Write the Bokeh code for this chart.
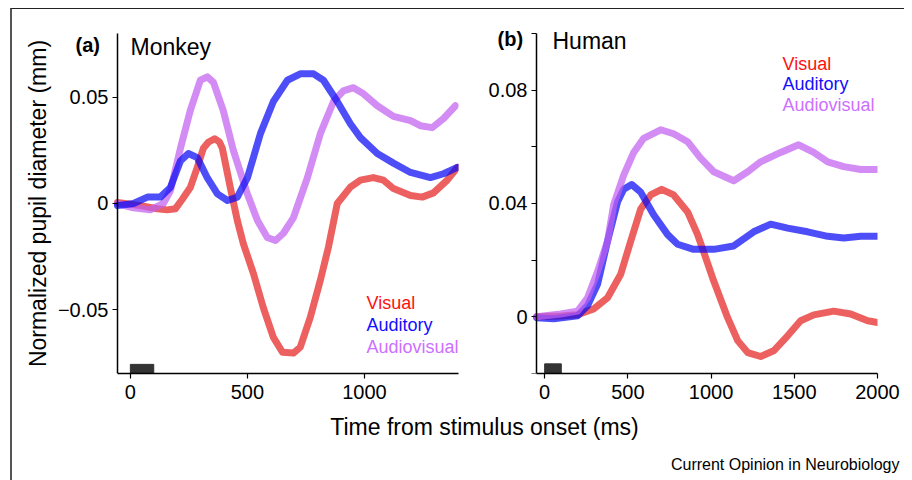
from bokeh.plotting import figure
from bokeh.layouts import row, column
from bokeh.models import Label, FixedTicker
from bokeh.embed import file_html
from bokeh.resources import INLINE

FONT = "Liberation Sans"

# ---------------- data: Monkey (a) ----------------
m_vis_t = [-55, 43, 115, 158, 192, 222, 256, 286, 312, 333, 360, 380, 393, 427, 457, 483, 526, 568, 611, 650, 697, 726, 769, 812, 846, 884, 940, 983, 1038, 1081, 1124, 1197, 1247, 1295, 1354, 1397]
m_vis_v = [0.0005, -0.001, -0.0025, -0.003, -0.0025, 0.002, 0.0075, 0.017, 0.026, 0.0288, 0.0305, 0.029, 0.026, 0.0075, -0.008, -0.019, -0.033, -0.049, -0.063, -0.070, -0.0704, -0.0676, -0.0535, -0.036, -0.0207, 0.0, 0.0077, 0.011, 0.0122, 0.011, 0.007, 0.0038, 0.003, 0.005, 0.011, 0.017]

m_aud_t = [-55, 13, 73, 128, 171, 214, 248, 286, 329, 372, 415, 457, 500, 556, 611, 671, 726, 783, 825, 884, 940, 983, 1055, 1124, 1197, 1282, 1338, 1397]
m_aud_v = [-0.001, 0.0, 0.003, 0.003, 0.0075, 0.020, 0.0235, 0.0216, 0.012, 0.0045, 0.0014, 0.003, 0.012, 0.033, 0.048, 0.058, 0.061, 0.061, 0.058, 0.048, 0.0375, 0.031, 0.0235, 0.019, 0.0146, 0.0122, 0.014, 0.017]

m_av_t = [-55, 13, 85, 141, 171, 214, 256, 299, 329, 355, 397, 440, 500, 543, 585, 620, 654, 697, 756, 812, 868, 910, 953, 996, 1055, 1124, 1197, 1239, 1290, 1338, 1389]
m_av_v = [0.0, -0.002, -0.003, 0.0, 0.006, 0.026, 0.0437, 0.058, 0.0596, 0.057, 0.0437, 0.025, 0.0045, -0.008, -0.016, -0.0174, -0.014, -0.0066, 0.012, 0.033, 0.048, 0.053, 0.0545, 0.0516, 0.046, 0.041, 0.039, 0.0366, 0.0357, 0.040, 0.046]

# ---------------- data: Human (b) ----------------
h_vis_t = [-48, 100, 198, 294, 378, 457, 517, 577, 637, 703, 775, 859, 919, 955, 1016, 1100, 1160, 1220, 1298, 1376, 1460, 1538, 1617, 1737, 1839, 1941, 2000]
h_vis_v = [0.0, 0.0003, 0.0007, 0.0028, 0.0067, 0.015, 0.0267, 0.038, 0.043, 0.045, 0.043, 0.037, 0.029, 0.023, 0.0126, -0.0004, -0.0084, -0.0126, -0.014, -0.012, -0.0067, -0.0014, 0.0007, 0.002, 0.001, -0.0014, -0.002]

h_aud_t = [-48, 54, 198, 258, 318, 378, 439, 475, 523, 577, 655, 739, 799, 895, 1016, 1136, 1256, 1358, 1460, 1580, 1701, 1797, 1899, 2000]
h_aud_v = [-0.0003, -0.0007, 0.0004, 0.004, 0.0115, 0.0267, 0.0407, 0.045, 0.0467, 0.044, 0.036, 0.029, 0.0256, 0.0238, 0.0238, 0.025, 0.030, 0.0327, 0.0313, 0.030, 0.0284, 0.0278, 0.0284, 0.0284]

h_av_t = [-48, 96, 198, 258, 318, 378, 415, 475, 535, 595, 697, 775, 859, 937, 1016, 1136, 1220, 1298, 1418, 1526, 1617, 1701, 1797, 1899, 2000]
h_av_v = [0.0, 0.001, 0.002, 0.0067, 0.016, 0.0267, 0.0396, 0.050, 0.058, 0.063, 0.066, 0.0646, 0.0618, 0.056, 0.0512, 0.048, 0.0512, 0.0547, 0.058, 0.0607, 0.058, 0.0547, 0.053, 0.052, 0.052]

stim_on, stim_off = 0, 100

legend_names = ["Visual", "Auditory", "Audiovisual"]
COL_VIS, COL_AUD, COL_AV = "#E62222", "#0A0AF5", "#C060F0"
text_colors = ["#FF1010", "#1010FF", "#CC70FF"]

m_x0, m_x1 = -55, 1402
m_y0, m_y1 = -0.080, 0.080
m_yticks = [-0.05, 0, 0.05]
m_ylabels = {-0.05: "\u22120.05", 0: "0", 0.05: "0.05"}
m_xticks = [0, 500, 1000]
h_x0, h_x1 = -49, 2000
h_y0, h_y1 = -0.02, 0.10
h_yticks = [-0.02, 0, 0.02, 0.04, 0.06, 0.08, 0.1]
h_ylabels = {-0.02: "", 0: "0", 0.02: "", 0.04: "0.04", 0.06: "", 0.08: "0.08", 0.1: ""}
h_xticks = [0, 500, 1000, 1500, 2000]


def style(p):
    p.xgrid.visible = False
    p.ygrid.visible = False
    p.outline_line_color = None
    for ax in (p.xaxis[0], p.yaxis[0]):
        ax.axis_line_color = "black"
        ax.axis_line_width = 1.5
        ax.major_tick_line_color = "black"
        ax.major_tick_line_width = 1.2
        ax.major_tick_out = 5
        ax.major_tick_in = 0
        ax.minor_tick_line_color = None
        ax.major_label_text_font = FONT
        ax.major_label_text_font_size = "20px"
        ax.major_label_text_color = "black"
    p.xaxis.major_label_standoff = 6
    p.yaxis.major_label_standoff = 4


def add_lines(p, series):
    for t, v, c in series:
        p.line(t, v, line_color=c, line_width=7, line_alpha=0.72,
               line_join="round", line_cap="round")


def add_text(p, x, y, txt, size, color="black", bold=False, align="left"):
    # screen units are measured from the frame's bottom-left corner
    p.add_layout(Label(x=x, y=y, x_units="screen", y_units="screen",
                       text=txt, text_font=FONT, text_font_size=size, text_color=color,
                       text_font_style="bold" if bold else "normal",
                       text_baseline="middle", text_align=align))


# ---------------- panel (a) ----------------
# frame widened so the panel letter lies inside it; y axis pinned at the data start
p1 = figure(width=458, height=400, x_range=(-495, m_x1), y_range=(m_y0, 0.0847),
            output_backend="svg", toolbar_location=None,
            min_border_left=2, min_border_right=12, min_border_top=14, min_border_bottom=35)
style(p1)
p1.xaxis.ticker = FixedTicker(ticks=m_xticks)
p1.xaxis.bounds = (m_x0, m_x1)
p1.yaxis.ticker = FixedTicker(ticks=m_yticks)
p1.yaxis.bounds = (m_y0, m_y1)
p1.yaxis.major_label_overrides = m_ylabels
p1.yaxis.fixed_location = m_x0
p1.yaxis.axis_label = "Normalized pupil diameter (mm)"
p1.yaxis.axis_label_text_font = FONT
p1.yaxis.axis_label_text_font_size = "23px"
p1.yaxis.axis_label_text_font_style = "normal"
p1.yaxis.axis_label_text_color = "black"
p1.yaxis.axis_label_standoff = 4
add_lines(p1, [(m_vis_t, m_vis_v, COL_VIS), (m_av_t, m_av_v, COL_AV), (m_aud_t, m_aud_v, COL_AUD)])
p1.quad(left=[stim_on], right=[stim_off], bottom=[m_y0], top=[-0.0757],
        fill_color="#333333", line_color="#333333")
add_text(p1, 61, 329, "(a)", "20px", bold=True)
add_text(p1, 116, 327, "Monkey", "23px")
for i, (name, col) in enumerate(zip(legend_names, text_colors)):
    add_text(p1, 352, 71 - 22 * i, name, "18px", color=col)

# ---------------- panel (b) ----------------
p2 = figure(width=434, height=400, x_range=(-397.5, h_x1), y_range=(h_y0, 0.1035),
            output_backend="svg", toolbar_location=None,
            min_border_left=8, min_border_right=27, min_border_top=13, min_border_bottom=36)
style(p2)
p2.xaxis.ticker = FixedTicker(ticks=h_xticks)
p2.xaxis.bounds = (h_x0, h_x1)
p2.yaxis.ticker = FixedTicker(ticks=h_yticks)
p2.yaxis.bounds = (h_y0, h_y1)
p2.yaxis.major_label_overrides = h_ylabels
p2.yaxis.fixed_location = h_x0
add_lines(p2, [(h_vis_t, h_vis_v, COL_VIS), (h_aud_t, h_aud_v, COL_AUD), (h_av_t, h_av_v, COL_AV)])
p2.quad(left=[stim_on], right=[stim_off], bottom=[h_y0], top=[-0.0166],
        fill_color="#333333", line_color="#333333")
add_text(p2, 19, 335, "(b)", "20px", bold=True)
add_text(p2, 74, 333, "Human", "23px")
for i, (name, col) in enumerate(zip(legend_names, text_colors)):
    add_text(p2, 304, 310 - 20.5 * i, name, "18px", color=col)

# ---------------- bottom strip ----------------
p3 = figure(width=892, height=71, x_range=(0, 1), y_range=(0, 1),
            output_backend="svg", toolbar_location=None,
            min_border=0)
p3.axis.visible = False
p3.grid.visible = False
p3.outline_line_color = None
add_text(p3, 472, 54, "Time from stimulus onset (ms)", "23px", align="center")
add_text(p3, 887, 16, "Current Opinion in Neurobiology", "16px", align="right")

layout = column(row(p1, p2), p3,
                styles={"border-top": "1px solid #222222",
                        "border-left": "2px solid #555555",
                        "margin-left": "10px",
                        "margin-top": "8px"})

open("out.html", "w").write(file_html(layout, INLINE))
